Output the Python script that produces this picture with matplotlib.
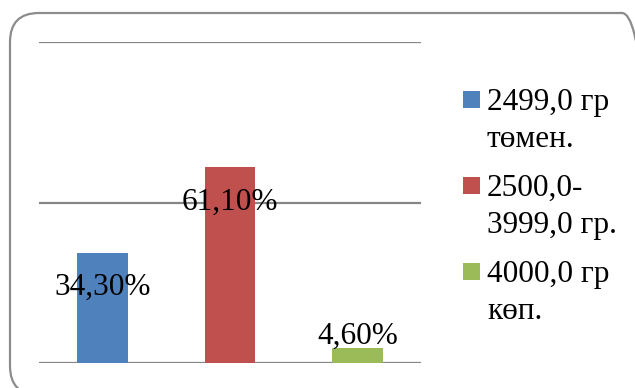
import matplotlib.pyplot as plt
from matplotlib.patches import FancyBboxPatch, Rectangle

plt.rcParams['font.family'] = ['Liberation Serif', 'DejaVu Serif']

categories = ["2499,0 гр\nтөмен.", "2500,0-\n3999,0 гр.", "4000,0 гр\nкөп."]
values = [0.343, 0.611, 0.046]
value_labels = ["34,30%", "61,10%", "4,60%"]
gridlines = [0.0, 0.5, 1.0]
colors = ['#4F81BD', '#C0504D', '#9BBB59']

# where the value labels sit (data units)
label_y = [0.237, 0.50, 0.084]

W, H = 635, 388
fig = plt.figure(figsize=(W / 100, H / 100), dpi=100)
ax = fig.add_axes([39 / W, (H - 363) / H, (421 - 39) / W, (363 - 42) / H])

x = range(len(values))
ax.bar(x, values, width=0.4, color=colors, zorder=2)
for yv in gridlines:
    ax.axhline(yv, color='#868686', lw=1.6, zorder=1)
for i, (lab, ly) in enumerate(zip(value_labels, label_y)):
    ax.text(i, ly, lab, ha='center', va='center', fontsize=22.5, color='black', zorder=3)

ax.set_xlim(-0.5, 2.5)
ax.set_ylim(0, 1.0)
ax.axis('off')

# legend drawn by hand: square aligned with the first line of each label
def px(xp, yp):
    return xp / W, (H - yp) / H

for i, (cat, col) in enumerate(zip(categories, colors)):
    top = 91 + i * 86
    sx, sy = px(463, top + 17)
    fig.add_artist(Rectangle((sx, sy), 17 / W, 17 / H, transform=fig.transFigure,
                             facecolor=col, edgecolor='none'))
    for j, line in enumerate(cat.split("\n")):
        tx, ty = px(487, top + 19 + j * 37)
        fig.text(tx, ty, line, fontsize=22.5, va='baseline', ha='left', color='black')

# rounded frame around the chart
frame = FancyBboxPatch((0.10, -0.07), 6.41, 3.82, boxstyle="round,pad=0,rounding_size=0.29",
                       transform=fig.dpi_scale_trans, facecolor='none',
                       edgecolor='#8c8c8c', lw=1.6, clip_on=False)
fig.add_artist(frame)

fig.savefig("out.png", dpi=100)
